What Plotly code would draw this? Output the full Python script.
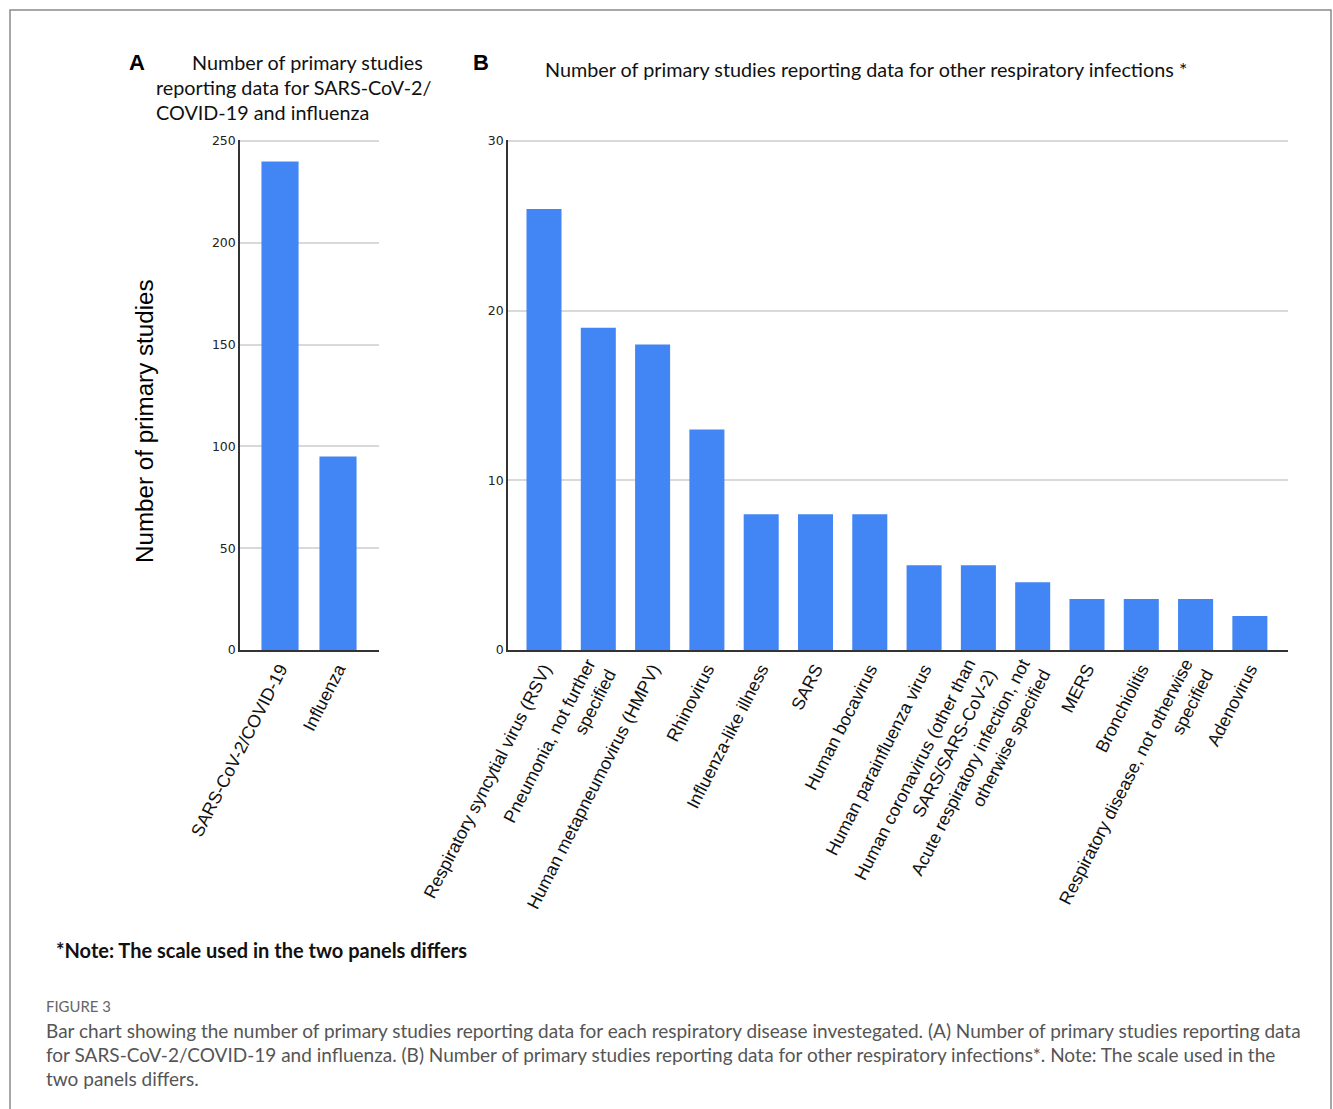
import plotly.graph_objects as go

W, H = 1333, 1109

# ---------------- data ----------------
a_categories = ["SARS-CoV-2/COVID-19", "Influenza"]
a_values = [240, 95]
a_ticks = [0, 50, 100, 150, 200, 250]

b_categories = [
    "Respiratory syncytial virus (RSV)",
    "Pneumonia, not further<br>specified",
    "Human metapneumovirus (HMPV)",
    "Rhinovirus",
    "Influenza-like illness",
    "SARS",
    "Human bocavirus",
    "Human parainfluenza virus",
    "Human coronavirus (other than<br>SARS/SARS-CoV-2)",
    "Acute respiratory infection, not<br>otherwise specified",
    "MERS",
    "Bronchiolitis",
    "Respiratory disease, not otherwise<br>specified",
    "Adenovirus",
]
b_values = [26, 19, 18, 13, 8, 8, 8, 5, 5, 4, 3, 3, 3, 2]
b_ticks = [0, 10, 20, 30]

title_a_lines = ["Number of primary studies", "reporting data for SARS-CoV-2/", "COVID-19 and influenza"]
title_b = "Number of primary studies reporting data for other respiratory infections *"
y_title = "Number of primary studies"
note = "*Note: The scale used in the two panels differs"
fig_label = "FIGURE 3"
caption_lines = [
    "Bar chart showing the number of primary studies reporting data for each respiratory disease investegated. (A) Number of primary studies reporting data",
    "for SARS-CoV-2/COVID-19 and influenza. (B) Number of primary studies reporting data for other respiratory infections*. Note: The scale used in the",
    "two panels differs.",
]

# ---------------- helpers ----------------
def px(x):
    return x / W

def py(y):
    return 1 - y / H

BAR = "#4285F4"
GRID = "#d9d9d9"
AXIS = "#333333"
TICKFONT = dict(family="DejaVu Sans, Arial", size=12.5, color="#222222")
XLABFONT = dict(family="Liberation Sans, Arial", size=17.8, color="#111111")
TITLEFONT = "Lato, Calibri, sans-serif"

fig = go.Figure()
fig.add_trace(go.Bar(x=a_categories, y=a_values, xaxis="x", yaxis="y",
                     marker=dict(color=BAR, line=dict(width=0)), width=0.64,
                     hoverinfo="x+y"))
fig.add_trace(go.Bar(x=b_categories, y=b_values, xaxis="x2", yaxis="y2",
                     marker=dict(color=BAR, line=dict(width=0)), width=0.645,
                     hoverinfo="x+y"))

common_x = dict(type="category", showgrid=False, showline=True, linecolor=AXIS,
                linewidth=1.5, ticks="", tickangle=-63, tickfont=XLABFONT,
                fixedrange=True, automargin=False)
common_y = dict(showgrid=True, gridcolor=GRID, gridwidth=1.5, showline=True,
                linecolor=AXIS, linewidth=1.5, ticks="", tickfont=TICKFONT,
                zeroline=False, fixedrange=True, automargin=False)

fig.update_layout(
    width=W, height=H, autosize=False,
    margin=dict(l=0, r=0, t=0, b=0, pad=0),
    paper_bgcolor="white", plot_bgcolor="white",
    showlegend=False, bargap=0.36,
    xaxis=dict(common_x, domain=[px(240), px(379)], range=[-0.69, 1.707], anchor="y"),
    yaxis=dict(common_y, domain=[py(650), py(140)], range=[0, 250.5],
               tickvals=a_ticks, anchor="x"),
    xaxis2=dict(common_x, domain=[px(508), px(1288)], range=[-0.663, 13.702], anchor="y2"),
    yaxis2=dict(common_y, domain=[py(650), py(140)], range=[0, 30.06],
                tickvals=b_ticks, anchor="x2"),
)

ann = []
# panel letters
ann.append(dict(text="<b>A</b>", x=px(127), y=py(63), xanchor="left", yanchor="middle",
                font=dict(family="Liberation Sans, Arial", size=22, color="black")))
ann.append(dict(text="<b>B</b>", x=px(471), y=py(63), xanchor="left", yanchor="middle",
                font=dict(family="Liberation Sans, Arial", size=22, color="black")))
# panel A title lines
for txt, xx, yy in zip(title_a_lines, [190, 154, 154], [62, 87, 112]):
    ann.append(dict(text=txt, x=px(xx), y=py(yy), xanchor="left", yanchor="middle",
                    font=dict(family=TITLEFONT, size=19.8, color="#111111")))
# panel B title
ann.append(dict(text=title_b, x=px(543), y=py(69), xanchor="left", yanchor="middle",
                font=dict(family=TITLEFONT, size=19.8, color="#111111")))
# y-axis title
ann.append(dict(text=y_title, x=px(145), y=py(421), xanchor="center", yanchor="middle",
                textangle=-90,
                font=dict(family="Liberation Sans, Arial", size=24.2, color="black")))
# note
ann.append(dict(text="<b>" + note + "</b>", x=px(54), y=py(950), xanchor="left", yanchor="middle",
                font=dict(family=TITLEFONT, size=20, color="#111111")))
# figure label & caption
ann.append(dict(text=fig_label, x=px(44), y=py(1006), xanchor="left", yanchor="middle",
                font=dict(family=TITLEFONT, size=14.9, color="#666666")))
for i, line in enumerate(caption_lines):
    ann.append(dict(text=line, x=px(44), y=py(1030 + 24 * i), xanchor="left", yanchor="middle",
                    font=dict(family=TITLEFONT, size=19, color="#555555")))

for a in ann:
    a.update(xref="paper", yref="paper", showarrow=False)
fig.update_layout(annotations=ann)

# outer border
fig.add_shape(type="rect", xref="paper", yref="paper",
              x0=px(10), x1=px(1331), y0=-0.02, y1=py(10),
              line=dict(color="#8a8a8a", width=1.5), fillcolor="rgba(0,0,0,0)", layer="below")

fig.write_html("out.html", config=dict(displayModeBar=False),
               post_script="document.body.style.margin='0';document.body.style.overflow='hidden';")
